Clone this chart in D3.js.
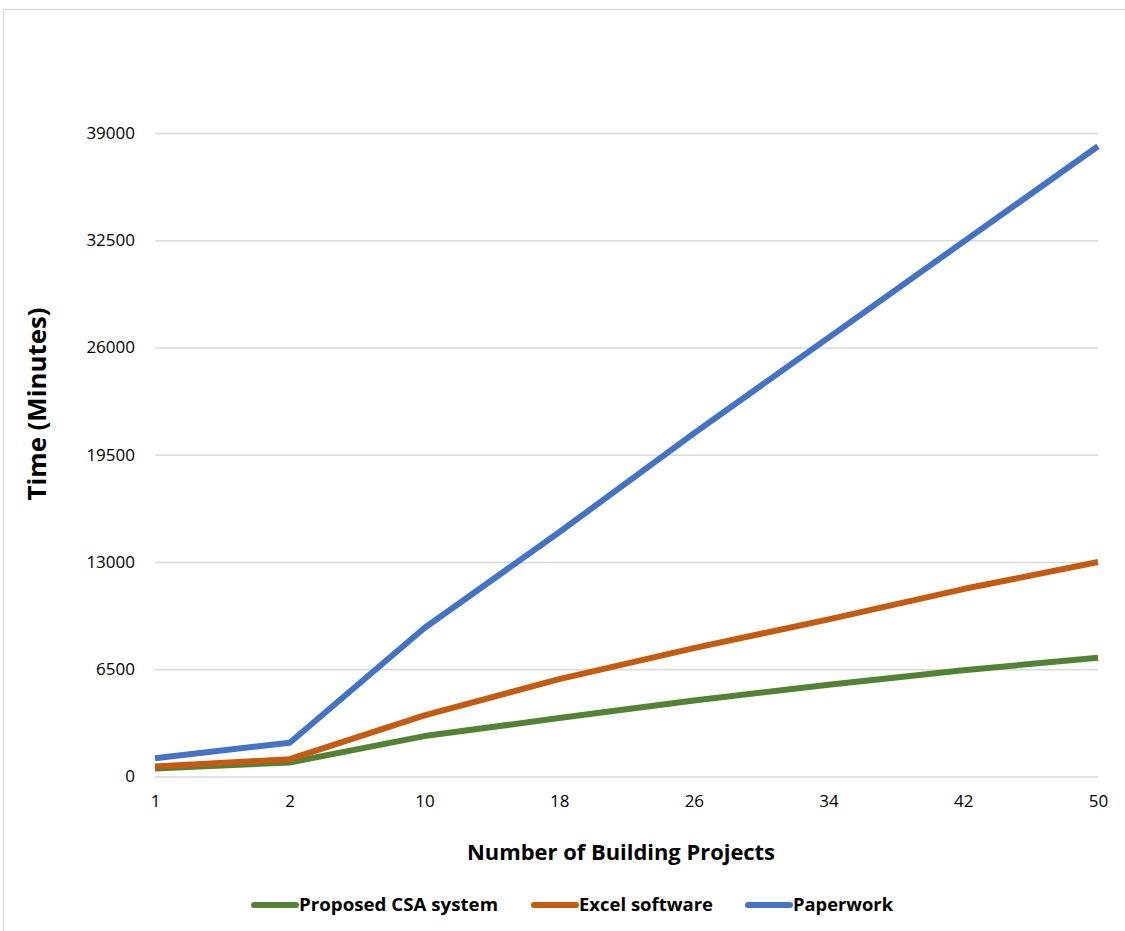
<!DOCTYPE html>
<html>
<head>
<meta charset="utf-8">
<script src="https://cdn.jsdelivr.net/npm/d3@7"></script>
<style>
  body { margin: 0; background: #fff; }
  text { font-family: "Open Sans", "Liberation Sans", sans-serif; }
</style>
</head>
<body>
<div id="chart"></div>
<script>
const projects = ["1", "2", "10", "18", "26", "34", "42", "50"];
const seriesNames = ["Proposed CSA system", "Excel software", "Paperwork"];
const csaValues = [480, 850, 2450, 3540, 4600, 5560, 6440, 7200];
const excelValues = [600, 1050, 3700, 5900, 7780, 9520, 11360, 13000];
const paperValues = [1100, 2050, 9000, 14800, 20800, 26600, 32400, 38200];
const yTicks = [0, 6500, 13000, 19500, 26000, 32500, 39000];
const colors = ["#548235", "#c55a11", "#4472c4"];

function renderChart () {
    const wSvg = 1125;
    const hSvg = 931;
    const left = 155;
    const right = 1098;
    const top = 133;
    const bottom = 776.5;

    let seriesData = [csaValues, excelValues, paperValues].map((vals, i) => ({
        name: seriesNames[i],
        color: colors[i],
        values: vals.map((v, j) => ({x: projects[j], y: v}))
    }));

    let xScale = d3.scalePoint(projects, [left, right]);
    let yScale = d3.scaleLinear([0, 39000], [bottom, top]);

    let svg = d3.select("#chart")
        .append("svg")
        .attr("width", wSvg)
        .attr("height", hSvg);

    // outer frame
    svg.append("rect")
        .attr("x", 3.5)
        .attr("y", 9.5)
        .attr("width", 1130)
        .attr("height", 940)
        .attr("fill", "none")
        .attr("stroke", "#d9d9d9")
        .attr("stroke-width", 1.2);

    // gridlines + y labels
    let yAxis = d3.axisLeft(yScale)
        .tickValues(yTicks)
        .tickSize(-(right - left))
        .tickPadding(20)
        .tickFormat(d3.format("d"));
    svg.append("g")
        .attr("transform", `translate(${left}, 0)`)
        .call(yAxis)
        .call(g => g.select(".domain").remove())
        .call(g => g.selectAll(".tick line").attr("stroke", "#d9d9d9").attr("stroke-width", 1.5))
        .call(g => g.selectAll(".tick text")
            .attr("fill", "#000")
            .style("font-size", "17px"));

    // x labels
    let xAxis = d3.axisBottom(xScale).tickSize(0).tickPadding(18);
    svg.append("g")
        .attr("transform", `translate(0, ${bottom})`)
        .call(xAxis)
        .call(g => g.select(".domain").remove())
        .call(g => g.selectAll(".tick text")
            .attr("fill", "#000")
            .style("font-size", "17px"));

    let line = d3.line()
        .x(d => xScale(d.x))
        .y(d => yScale(d.y));

    svg.append("g")
        .selectAll("path")
        .data(seriesData)
        .enter()
        .append("path")
        .attr("d", d => line(d.values))
        .attr("fill", "none")
        .attr("stroke", d => d.color)
        .attr("stroke-width", 6)
        .attr("stroke-linejoin", "round")
        .attr("stroke-linecap", "butt");

    // axis titles
    svg.append("text")
        .attr("x", 621)
        .attr("y", 860)
        .attr("text-anchor", "middle")
        .attr("textLength", 308)
        .attr("lengthAdjust", "spacingAndGlyphs")
        .style("font-size", "21px")
        .style("font-weight", "bold")
        .text("Number of Building Projects");

    svg.append("text")
        .attr("transform", "translate(46, 404) rotate(-90)")
        .attr("text-anchor", "middle")
        .attr("textLength", 193)
        .attr("lengthAdjust", "spacingAndGlyphs")
        .style("font-size", "25px")
        .style("font-weight", "bold")
        .text("Time (Minutes)");

    // legend
    const legendX = [252, 532, 746];
    const legendW = [199, 134, 100];
    let legend = svg.append("g")
        .selectAll("g")
        .data(seriesData)
        .enter()
        .append("g")
        .attr("transform", (d, i) => `translate(${legendX[i]}, 905)`);

    legend.append("line")
        .attr("x1", 2)
        .attr("x2", 44)
        .attr("y1", 0)
        .attr("y2", 0)
        .attr("stroke", d => d.color)
        .attr("stroke-width", 6)
        .attr("stroke-linecap", "round");

    legend.append("text")
        .attr("x", 47)
        .attr("y", 6)
        .attr("textLength", (d, i) => legendW[i])
        .attr("lengthAdjust", "spacingAndGlyphs")
        .style("font-size", "17px")
        .style("font-weight", "bold")
        .text(d => d.name);
}

renderChart();
</script>
</body>
</html>
